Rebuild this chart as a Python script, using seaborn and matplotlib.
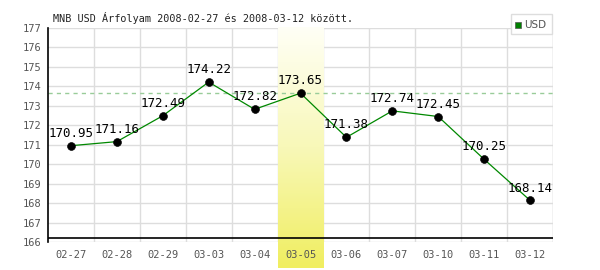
import numpy as np
import pandas as pd
import matplotlib
matplotlib.use("Agg")
import matplotlib.pyplot as plt
import seaborn as sns
from matplotlib.colors import LinearSegmentedColormap
from matplotlib.patches import Rectangle

dates = ["02-27", "02-28", "02-29", "03-03", "03-04", "03-05",
         "03-06", "03-07", "03-10", "03-11", "03-12"]
usd = [170.95, 171.16, 172.49, 174.22, 172.82, 173.65,
       171.38, 172.74, 172.45, 170.25, 168.14]
highlight = "03-05"
ref_level = 173.65
y_ticks = list(range(166, 178))
title = "MNB USD Árfolyam 2008-02-27 és 2008-03-12 között."

sns.set_style("white")
plt.rcParams["font.family"] = ["DejaVu Sans Mono"]

df = pd.DataFrame({"pos": np.arange(len(dates)), "date": dates, "usd": usd})

fig = plt.figure(figsize=(6, 2.7), dpi=100)
ax = fig.add_axes([48 / 600, 1 - 242 / 270, 505 / 600, 214 / 270])
ax.set_xlim(-0.5, len(dates) - 0.5)
ax.set_ylim(166, 177)

# grid
for y in y_ticks:
    ax.axhline(y, color="#dddddd", lw=1, zorder=0)
for i in range(len(dates)):
    ax.axvline(i + 0.5, color="#dddddd", lw=1, zorder=0)

# highlight band with gradient
hi = dates.index(highlight)
grad = np.linspace(0, 1, 256).reshape(-1, 1)
cmap = LinearSegmentedColormap.from_list("yel", ["#fffff6", "#f8f8b8", "#f0ee60"])
ax.imshow(grad, cmap=cmap, aspect="auto", extent=(hi - 0.5, hi + 0.5, 166 - 1.35, 177),
          origin="upper", zorder=0.5, clip_on=False)

ax.axhline(ref_level, color="#99cc99", lw=1, ls=(0, (3, 3)), zorder=1)

sns.lineplot(data=df, x="pos", y="usd", color="#008800", lw=0.9, ax=ax, zorder=2)
sns.scatterplot(data=df, x="pos", y="usd", color="black", s=32, edgecolor="black", ax=ax, zorder=3)

for i, v in enumerate(usd):
    ax.text(i, v + 0.3, f"{v:.2f}", ha="center", va="bottom", fontsize=9, color="black", zorder=4)

ax.axhline(166.19, color="black", lw=1.2, zorder=2)
for s in ["top", "right", "bottom"]:
    ax.spines[s].set_visible(False)
ax.spines["left"].set_color("black")
ax.spines["left"].set_linewidth(1.2)
ax.axvline(len(dates) - 0.5, color="#dddddd", lw=1, zorder=0)

ax.set_xticks(df["pos"])
ax.set_xticklabels(dates)
ax.set_yticks(y_ticks)
ax.tick_params(axis="both", labelsize=7.5, labelcolor="#555555", length=0)
ax.tick_params(axis="y", pad=5)
ax.tick_params(axis="x", pad=6)
ax.set_xlabel("")
ax.set_ylabel("")

fig.text(53 / 600, 1 - 18 / 270, title, fontsize=7.3, color="#222222", va="center", ha="left")

# legend
fig.patches.append(Rectangle((511 / 600, 1 - 34 / 270), 41 / 600, 20 / 270, transform=fig.transFigure,
                             facecolor="white", edgecolor="#dddddd", lw=1))
fig.patches.append(Rectangle((515 / 600, 1 - 28 / 270), 6 / 600, 6 / 270, transform=fig.transFigure,
                             facecolor="#008000", edgecolor="#555555", lw=0.5))
fig.text(524 / 600, 1 - 24.5 / 270, "USD", fontsize=7.5, color="#555555", va="center",
         ha="left", family="DejaVu Sans")

fig.savefig("out.png", dpi=100)
